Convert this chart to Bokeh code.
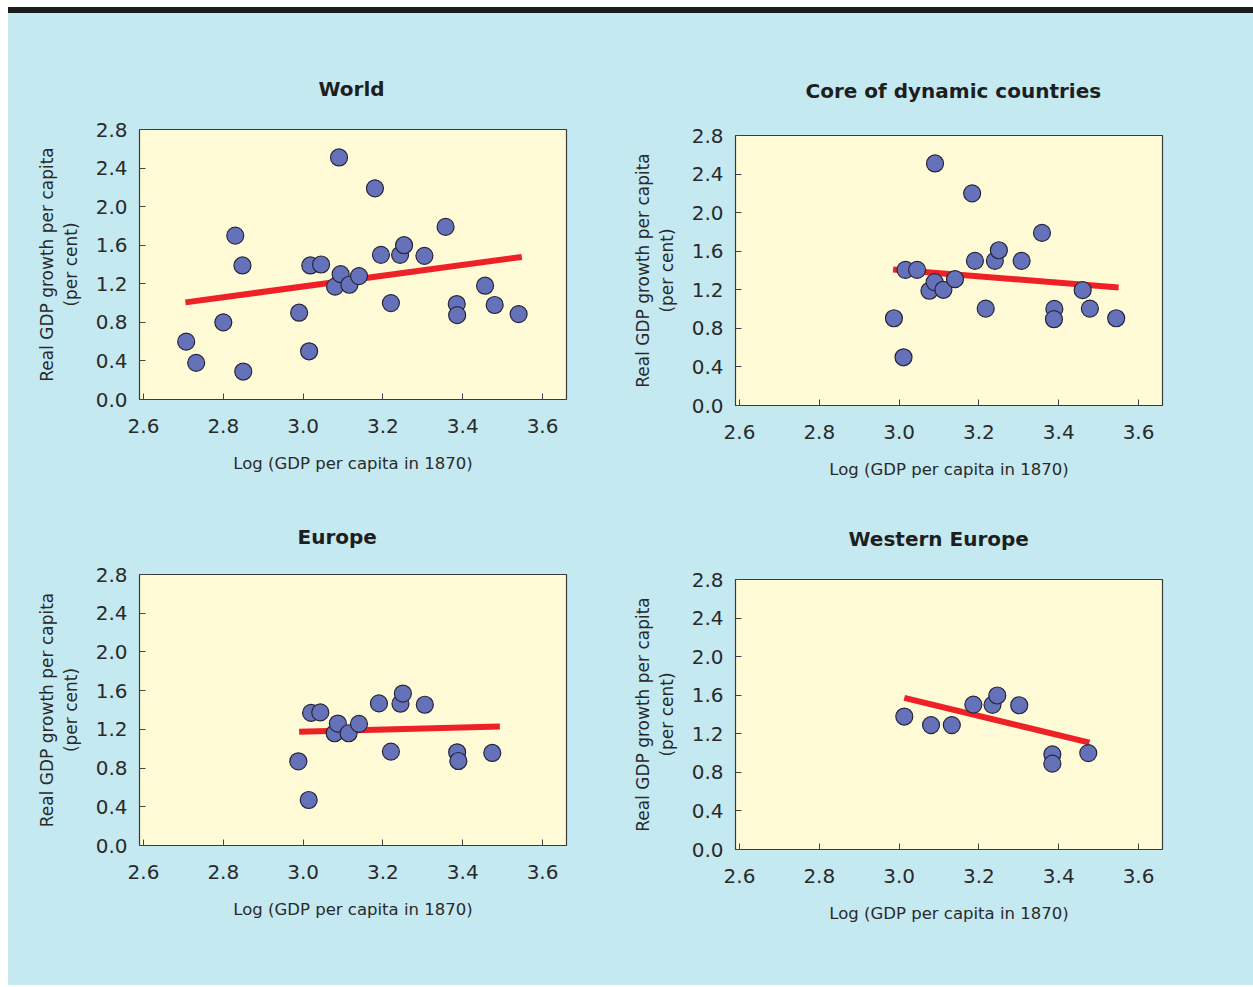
from bokeh.plotting import figure
from bokeh.layouts import column, row
from bokeh.models import Div, FixedTicker, PrintfTickFormatter
from bokeh.embed import file_html
from bokeh.resources import INLINE

# ---- data ----
x_ticks = [2.6, 2.8, 3.0, 3.2, 3.4, 3.6]
y_ticks = [0.0, 0.4, 0.8, 1.2, 1.6, 2.0, 2.4, 2.8]

world_x = [2.707, 2.732, 2.80, 2.83, 2.848, 2.85, 2.99, 3.015, 3.018, 3.045, 3.09, 3.08, 3.094, 3.116,
           3.14, 3.18, 3.195, 3.22, 3.243, 3.253, 3.304, 3.357, 3.385, 3.386, 3.456, 3.48, 3.54]
world_y = [0.60, 0.38, 0.80, 1.70, 1.39, 0.29, 0.90, 0.50, 1.39, 1.40, 2.51, 1.17, 1.30, 1.19,
           1.28, 2.19, 1.50, 1.00, 1.50, 1.60, 1.49, 1.79, 0.99, 0.875, 1.18, 0.98, 0.886]
world_fit_x = [2.705, 3.548]
world_fit_y = [1.007, 1.478]

core_x = [2.987, 3.011, 3.016, 3.045, 3.09, 3.076, 3.089, 3.111, 3.14, 3.183, 3.19, 3.217, 3.24,
          3.25, 3.307, 3.358, 3.389, 3.388, 3.46, 3.478, 3.544]
core_y = [0.905, 0.50, 1.407, 1.407, 2.51, 1.19, 1.28, 1.20, 1.31, 2.20, 1.50, 1.005, 1.50,
          1.61, 1.50, 1.79, 1.002, 0.895, 1.196, 1.005, 0.905]
core_fit_x = [2.985, 3.55]
core_fit_y = [1.41, 1.223]

europe_x = [2.988, 3.014, 3.02, 3.043, 3.079, 3.087, 3.114, 3.14, 3.19, 3.22, 3.244, 3.25, 3.305,
            3.386, 3.389, 3.474]
europe_y = [0.87, 0.47, 1.37, 1.375, 1.16, 1.26, 1.16, 1.257, 1.468, 0.97, 1.465, 1.57, 1.454,
            0.963, 0.873, 0.956]
europe_fit_x = [2.99, 3.493]
europe_fit_y = [1.174, 1.229]

west_x = [3.013, 3.08, 3.132, 3.186, 3.234, 3.246, 3.301, 3.384, 3.384, 3.474]
west_y = [1.379, 1.29, 1.29, 1.503, 1.50, 1.597, 1.496, 0.987, 0.89, 1.00]
west_fit_x = [3.013, 3.477]
west_fit_y = [1.572, 1.108]

titles = ["World", "Core of dynamic countries", "Europe", "Western Europe"]
x_label = "Log (GDP per capita in 1870)"
y_label = "Real GDP growth per capita\n(per cent)"

BG = "#c5e9f1"
PLOT_BG = "#fffbd7"
FONT = "DejaVu Sans"


def panel(title, xs, ys, fx, fy, ml, mr, mt, mb, fh, toff, tstand):
    p = figure(frame_width=427, frame_height=fh, x_range=(2.59, 3.66), y_range=(0, 2.8),
               output_backend="svg", toolbar_location=None,
               min_border_left=ml, min_border_right=mr, min_border_top=mt, min_border_bottom=mb,
               title=title)
    p.background_fill_color = PLOT_BG
    p.border_fill_color = BG
    p.outline_line_color = "#3a3a3a"
    p.outline_line_width = 1.2
    p.grid.visible = False
    p.title.align = "left"
    p.title.offset = toff
    p.title.text_font = FONT
    p.title.text_font_style = "bold"
    p.title.text_font_size = "20px"
    p.title.text_color = "#1e1e1e"
    p.title.standoff = tstand
    for ax in (p.xaxis[0], p.yaxis[0]):
        ax.axis_line_color = None
        ax.major_tick_in = 6
        ax.major_tick_out = 0
        ax.minor_tick_line_color = None
        ax.major_tick_line_color = "#444444"
        ax.major_label_text_font = FONT
        ax.major_label_text_font_size = "20px"
        ax.major_label_text_color = "#2a2a2a"
        ax.axis_label_text_font = FONT
        ax.axis_label_text_font_style = "normal"
        ax.axis_label_text_color = "#2a2a2a"
        ax.formatter = PrintfTickFormatter(format="%.1f")
    p.xaxis.ticker = FixedTicker(ticks=x_ticks)
    p.yaxis.ticker = FixedTicker(ticks=y_ticks)
    p.xaxis.axis_label = x_label
    p.yaxis.axis_label = y_label
    p.xaxis.axis_label_text_font_size = "16.5px"
    p.yaxis.axis_label_text_font_size = "17px"
    p.yaxis.axis_label_text_align = "center"
    p.xaxis.major_label_standoff = 19
    p.yaxis.major_label_standoff = 12
    p.xaxis.axis_label_standoff = 18
    p.yaxis.axis_label_standoff = 12
    p.line(fx, fy, line_color="#ee2127", line_width=6, line_cap="butt")
    p.scatter(xs, ys, size=17, fill_color="#6571b9", line_color="#26263a", line_width=1.2)
    return p


p1 = panel(titles[0], world_x, world_y, world_fit_x, world_fit_y, 131, 34, 116, 91, 270, 179, 58)
p2 = panel(titles[1], core_x, core_y, core_fit_x, core_fit_y, 135, 91, 122, 85, 270, 70, 66)
p3 = panel(titles[2], europe_x, europe_y, europe_fit_x, europe_fit_y, 131, 34, 84, 140, 271, 158, 52)
p4 = panel(titles[3], west_x, west_y, west_fit_x, west_fit_y, 135, 91, 89, 136, 270, 113, 58)

bar = Div(text="", width=1245, height=6, margin=(0, 0, 0, 0),
          styles={"background-color": "#1c1c1c"})

top = row(column(p1), column(p2), spacing=0, styles={"background-color": BG})
bottom = row(column(p3), column(p4), spacing=0, styles={"background-color": BG})
layout = column(bar, top, bottom, spacing=0, margin=(7, 0, 0, 8),
                styles={"background-color": BG})

open("out.html", "w").write(file_html(layout, INLINE))
